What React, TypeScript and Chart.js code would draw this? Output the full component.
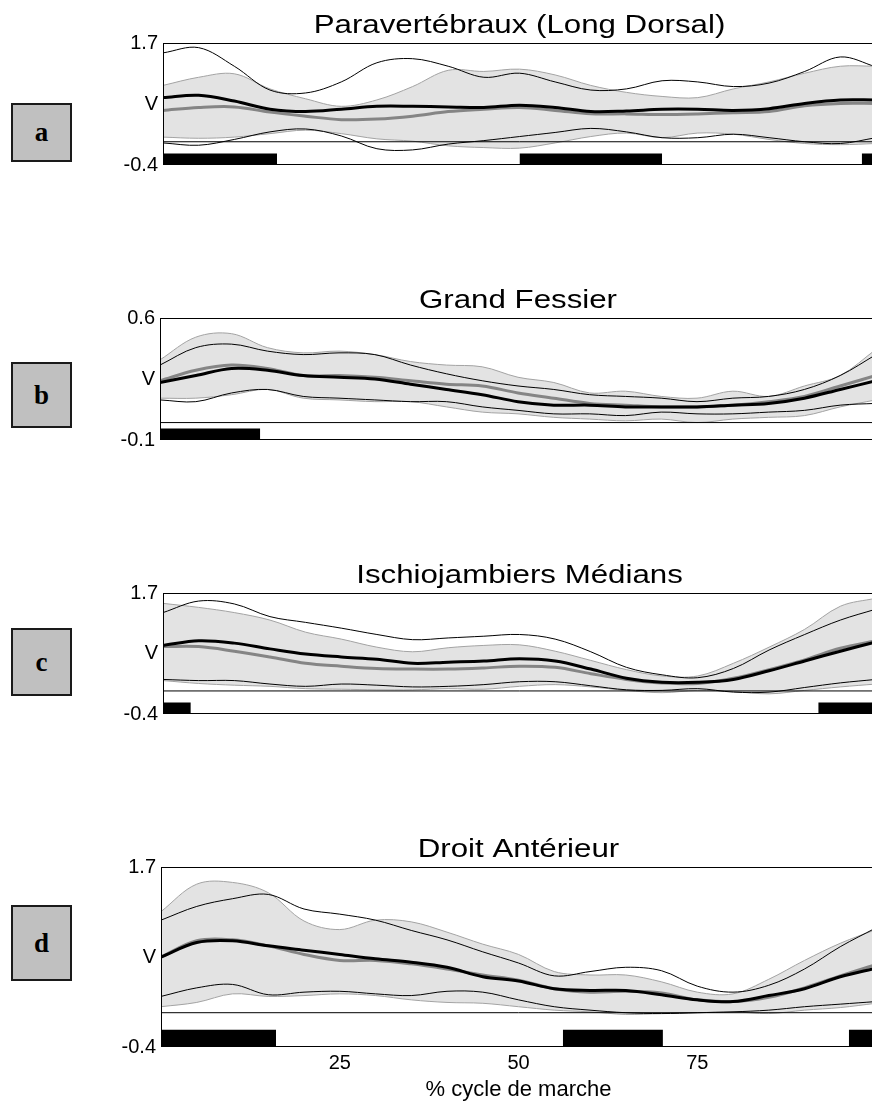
import React, { useEffect, useRef } from "react";
import { Chart, registerables } from "chart.js";

Chart.register(...registerables);

// ---------- data ----------
const PCT = [0, 5, 10, 15, 20, 25, 30, 35, 40, 45, 50, 55, 60, 65, 70, 75, 80, 85, 90, 95, 100];
const X_TICKS = [25, 50, 75];

// Panel a: Paravertébraux (Long Dorsal)
const A_BAND_UP = [0.97, 1.11, 1.17, 0.91, 0.74, 0.61, 0.72, 0.95, 1.23, 1.21, 1.25, 1.15, 0.97, 0.85, 0.78, 0.76, 0.91, 1.03, 1.18, 1.30, 1.30];
const A_BAND_LOW = [0.08, 0.06, 0.08, 0.14, 0.20, 0.14, 0.05, 0.01, -0.07, -0.10, -0.11, -0.02, 0.09, 0.15, 0.07, 0.15, 0.13, 0.04, -0.03, -0.05, -0.03];
const A_NORM_MEAN = [0.54, 0.59, 0.60, 0.51, 0.44, 0.38, 0.39, 0.44, 0.52, 0.56, 0.59, 0.54, 0.48, 0.48, 0.47, 0.48, 0.50, 0.52, 0.62, 0.66, 0.66];
const A_MEAN = [0.76, 0.80, 0.70, 0.56, 0.52, 0.56, 0.61, 0.61, 0.60, 0.59, 0.63, 0.59, 0.52, 0.53, 0.56, 0.56, 0.54, 0.57, 0.66, 0.72, 0.72];
const A_UP = [1.53, 1.62, 1.30, 0.89, 0.84, 1.03, 1.36, 1.43, 1.30, 1.11, 1.18, 1.03, 0.89, 0.91, 1.05, 1.03, 0.95, 1.01, 1.21, 1.46, 1.29];
const A_LOW = [-0.02, -0.06, 0.04, 0.17, 0.22, 0.10, -0.12, -0.14, -0.04, 0.02, 0.09, 0.16, 0.23, 0.17, 0.07, 0.07, 0.13, 0.07, 0.00, -0.03, 0.07];
const A_BARS = [[0, 16], [50, 70], [98, 100]];

// Panel b: Grand Fessier
const B_BAND_UP = [0.36, 0.49, 0.51, 0.43, 0.40, 0.41, 0.39, 0.35, 0.33, 0.32, 0.26, 0.23, 0.17, 0.18, 0.15, 0.14, 0.18, 0.15, 0.21, 0.27, 0.42];
const B_BAND_LOW = [0.14, 0.14, 0.16, 0.19, 0.14, 0.13, 0.12, 0.12, 0.09, 0.06, 0.05, 0.03, 0.02, 0.01, 0.02, 0.00, 0.02, 0.03, 0.04, 0.09, 0.13];
const B_NORM_MEAN = [0.24, 0.30, 0.33, 0.31, 0.27, 0.27, 0.26, 0.24, 0.22, 0.21, 0.17, 0.14, 0.11, 0.10, 0.09, 0.09, 0.10, 0.12, 0.15, 0.21, 0.27];
const B_MEAN = [0.23, 0.27, 0.31, 0.30, 0.27, 0.26, 0.25, 0.22, 0.19, 0.16, 0.12, 0.10, 0.10, 0.09, 0.09, 0.09, 0.10, 0.11, 0.14, 0.19, 0.24];
const B_UP = [0.33, 0.43, 0.45, 0.41, 0.39, 0.40, 0.39, 0.33, 0.28, 0.24, 0.21, 0.19, 0.16, 0.15, 0.14, 0.12, 0.14, 0.15, 0.19, 0.27, 0.39];
const B_LOW = [0.13, 0.12, 0.17, 0.19, 0.15, 0.14, 0.13, 0.12, 0.12, 0.09, 0.07, 0.05, 0.05, 0.04, 0.06, 0.05, 0.05, 0.06, 0.07, 0.10, 0.11];
const B_BARS = [[0, 14]];

// Panel c: Ischiojambiers Médians
const C_BAND_UP = [1.52, 1.45, 1.36, 1.23, 1.02, 0.90, 0.76, 0.68, 0.75, 0.79, 0.80, 0.69, 0.53, 0.37, 0.26, 0.26, 0.48, 0.76, 1.07, 1.47, 1.61];
const C_BAND_LOW = [0.18, 0.13, 0.10, 0.08, 0.04, 0.03, 0.02, 0.02, 0.04, 0.03, 0.08, 0.11, 0.07, 0.01, -0.03, 0.01, -0.01, -0.05, 0.01, 0.07, 0.12];
const C_NORM_MEAN = [0.77, 0.77, 0.69, 0.59, 0.48, 0.43, 0.39, 0.38, 0.38, 0.40, 0.43, 0.41, 0.30, 0.20, 0.14, 0.13, 0.22, 0.37, 0.54, 0.74, 0.87];
const C_MEAN = [0.79, 0.87, 0.83, 0.73, 0.64, 0.59, 0.55, 0.48, 0.50, 0.52, 0.56, 0.52, 0.38, 0.22, 0.15, 0.15, 0.20, 0.35, 0.52, 0.69, 0.85];
const C_UP = [1.36, 1.56, 1.51, 1.29, 1.19, 1.09, 0.98, 0.89, 0.92, 0.95, 0.98, 0.90, 0.68, 0.41, 0.28, 0.23, 0.39, 0.71, 0.98, 1.23, 1.42];
const C_LOW = [0.20, 0.18, 0.18, 0.12, 0.08, 0.12, 0.10, 0.07, 0.08, 0.11, 0.16, 0.16, 0.09, 0.02, 0.01, 0.04, -0.02, -0.02, 0.06, 0.14, 0.20];
const C_BARS = [[0, 3.9], [91.9, 100]];

// Panel d: Droit Antérieur
const D_BAND_UP = [1.18, 1.50, 1.52, 1.40, 1.07, 0.97, 1.08, 1.06, 0.94, 0.80, 0.68, 0.48, 0.44, 0.44, 0.36, 0.24, 0.22, 0.39, 0.61, 0.81, 0.97];
const D_BAND_LOW = [0.07, 0.12, 0.22, 0.19, 0.20, 0.22, 0.20, 0.15, 0.12, 0.11, 0.07, 0.03, 0.01, -0.02, -0.01, 0.00, 0.01, -0.01, 0.03, 0.06, 0.11];
const D_NORM_MEAN = [0.65, 0.84, 0.85, 0.78, 0.68, 0.61, 0.61, 0.57, 0.51, 0.44, 0.38, 0.28, 0.24, 0.25, 0.23, 0.15, 0.13, 0.18, 0.29, 0.43, 0.56];
const D_MEAN = [0.65, 0.82, 0.84, 0.78, 0.73, 0.68, 0.63, 0.59, 0.53, 0.42, 0.37, 0.28, 0.26, 0.26, 0.21, 0.15, 0.13, 0.20, 0.28, 0.42, 0.52];
const D_UP = [1.08, 1.24, 1.33, 1.38, 1.21, 1.15, 1.08, 0.96, 0.85, 0.71, 0.58, 0.43, 0.48, 0.53, 0.49, 0.31, 0.24, 0.32, 0.51, 0.77, 0.99];
const D_LOW = [0.19, 0.29, 0.33, 0.21, 0.24, 0.25, 0.22, 0.20, 0.25, 0.24, 0.15, 0.07, 0.03, 0.00, -0.01, 0.00, 0.01, 0.03, 0.07, 0.10, 0.13];
const D_BARS = [[0, 16.1], [56.2, 70.2], [96.2, 100]];

// ---------- layout / style ----------
const PANELS = [
  { key: "a", title: "Paravertébraux (Long Dorsal)", yMin: -0.4, yMax: 1.7, barTop: -0.2, canvasTop: 0, height: 238, left: 163, padBottom: 16, xAxis: false,
    bandUp: A_BAND_UP, bandLow: A_BAND_LOW, normMean: A_NORM_MEAN, mean: A_MEAN, up: A_UP, low: A_LOW, bars: A_BARS },
  { key: "b", title: "Grand Fessier", yMin: -0.1, yMax: 0.6, barTop: -0.034, canvasTop: 275, height: 238, left: 160, padBottom: 16, xAxis: false,
    bandUp: B_BAND_UP, bandLow: B_BAND_LOW, normMean: B_NORM_MEAN, mean: B_MEAN, up: B_UP, low: B_LOW, bars: B_BARS },
  { key: "c", title: "Ischiojambiers Médians", yMin: -0.4, yMax: 1.7, barTop: -0.2, canvasTop: 550, height: 237, left: 163, padBottom: 16, xAxis: false,
    bandUp: C_BAND_UP, bandLow: C_BAND_LOW, normMean: C_NORM_MEAN, mean: C_MEAN, up: C_UP, low: C_LOW, bars: C_BARS },
  { key: "d", title: "Droit Antérieur", yMin: -0.4, yMax: 1.7, barTop: -0.2, canvasTop: 824, height: 280, left: 161, padBottom: 0, xAxis: true,
    bandUp: D_BAND_UP, bandLow: D_BAND_LOW, normMean: D_NORM_MEAN, mean: D_MEAN, up: D_UP, low: D_LOW, bars: D_BARS },
];

const BOXES = [
  { letter: "a", top: 103, height: 59 },
  { letter: "b", top: 362, height: 66 },
  { letter: "c", top: 628, height: 68 },
  { letter: "d", top: 905, height: 76 },
];

const CANVAS_W = 890;
const PLOT_RIGHT = 876;
const FONT = '"Liberation Sans", Arial, sans-serif';

const pts = (arr) => PCT.map((x, i) => ({ x, y: arr[i] }));

const panelDecor = {
  id: "panelDecor",
  afterDatasetsDraw(chart, _args, opts) {
    const { ctx, chartArea } = chart;
    const { left, right, top, bottom } = chartArea;
    ctx.save();
    ctx.strokeStyle = "#000";
    ctx.lineWidth = 1;
    ctx.strokeRect(left + 0.5, top + 0.5, right - left - 1, bottom - top - 1);
    ctx.restore();
    ctx.save();
    ctx.font = `25px ${FONT}`;
    ctx.fillStyle = "#000";
    ctx.textAlign = "center";
    ctx.textBaseline = "alphabetic";
    ctx.translate((left + right) / 2, top - 10);
    ctx.scale(1.25, 1);
    ctx.fillText(opts.title, 0, 0);
    ctx.restore();
  },
};

function Panel({ p }) {
  const ref = useRef(null);
  useEffect(() => {
    const line = (arr, color, width) => ({
      type: "line",
      data: pts(arr),
      borderColor: color,
      borderWidth: width,
      pointRadius: 0,
      tension: 0.35,
      fill: false,
    });
    const datasets = [
      line(p.mean, "#000000", 3),
      line(p.up, "#000000", 1),
      line(p.low, "#000000", 1),
      line(p.normMean, "#858585", 3),
      { type: "line", data: [{ x: 0, y: 0 }, { x: 100, y: 0 }], borderColor: "#000", borderWidth: 1, pointRadius: 0, fill: false },
      { ...line(p.bandUp, "#a3a3a3", 1), fill: "+1", backgroundColor: "#e3e3e3" },
      line(p.bandLow, "#a3a3a3", 1),
      ...p.bars.map(([s, e]) => ({
        type: "line",
        data: [{ x: s, y: p.barTop }, { x: e, y: p.barTop }],
        borderWidth: 0,
        borderColor: "rgba(0,0,0,0)",
        backgroundColor: "#000",
        pointRadius: 0,
        fill: { value: p.yMin },
      })),
    ];
    const mid = (p.yMin + p.yMax) / 2;
    const chart = new Chart(ref.current, {
      type: "line",
      data: { datasets },
      plugins: [panelDecor],
      options: {
        animation: false,
        responsive: false,
        devicePixelRatio: 1,
        layout: { autoPadding: false, padding: { left: 0, right: CANVAS_W - PLOT_RIGHT, top: 43, bottom: p.padBottom } },
        plugins: {
          legend: { display: false },
          tooltip: { enabled: false },
          filler: { drawTime: "beforeDatasetsDraw" },
          panelDecor: { title: p.title },
        },
        scales: {
          x: {
            type: "linear",
            min: 0,
            max: 100,
            display: p.xAxis,
            grid: { display: false, drawTicks: false },
            border: { display: false },
            afterBuildTicks: (s) => { s.ticks = X_TICKS.map((v) => ({ value: v })); },
            afterFit: (s) => { s.height = 57; },
            ticks: { color: "#000", font: { family: FONT, size: 20 }, padding: 4, maxRotation: 0 },
            title: { display: true, text: "% cycle de marche", color: "#000", font: { family: FONT, size: 22 }, padding: { top: 0, bottom: 1 } },
          },
          y: {
            type: "linear",
            min: p.yMin,
            max: p.yMax,
            grid: { display: false, drawTicks: false },
            border: { display: false },
            afterBuildTicks: (s) => { s.ticks = [{ value: p.yMin }, { value: mid }, { value: p.yMax }]; },
            afterFit: (s) => { s.width = p.left; },
            ticks: {
              color: "#000",
              font: { family: FONT, size: 20 },
              padding: 5,
              callback: (v, i) => (i === 1 ? "V" : String(v)),
            },
          },
        },
      },
    });
    return () => chart.destroy();
  }, [p]);
  return (
    <canvas
      ref={ref}
      width={CANVAS_W}
      height={p.height}
      style={{ position: "absolute", left: 0, top: p.canvasTop, width: CANVAS_W, height: p.height }}
    />
  );
}

export default function App() {
  return (
    <div style={{ position: "fixed", left: 0, top: 0, width: 872, height: 1104, overflow: "hidden", background: "#fff" }}>
      {PANELS.map((p) => (
        <Panel key={p.key} p={p} />
      ))}
      {BOXES.map((b) => (
        <div
          key={b.letter}
          style={{
            position: "absolute",
            left: 11,
            top: b.top,
            width: 61,
            height: b.height,
            boxSizing: "border-box",
            border: "2px solid #1a1a1a",
            background: "#c0c0c0",
            display: "flex",
            alignItems: "center",
            justifyContent: "center",
            fontFamily: '"Liberation Serif", "Times New Roman", serif',
            fontWeight: "bold",
            fontSize: 27,
            color: "#000",
          }}
        >
          {b.letter}
        </div>
      ))}
    </div>
  );
}
